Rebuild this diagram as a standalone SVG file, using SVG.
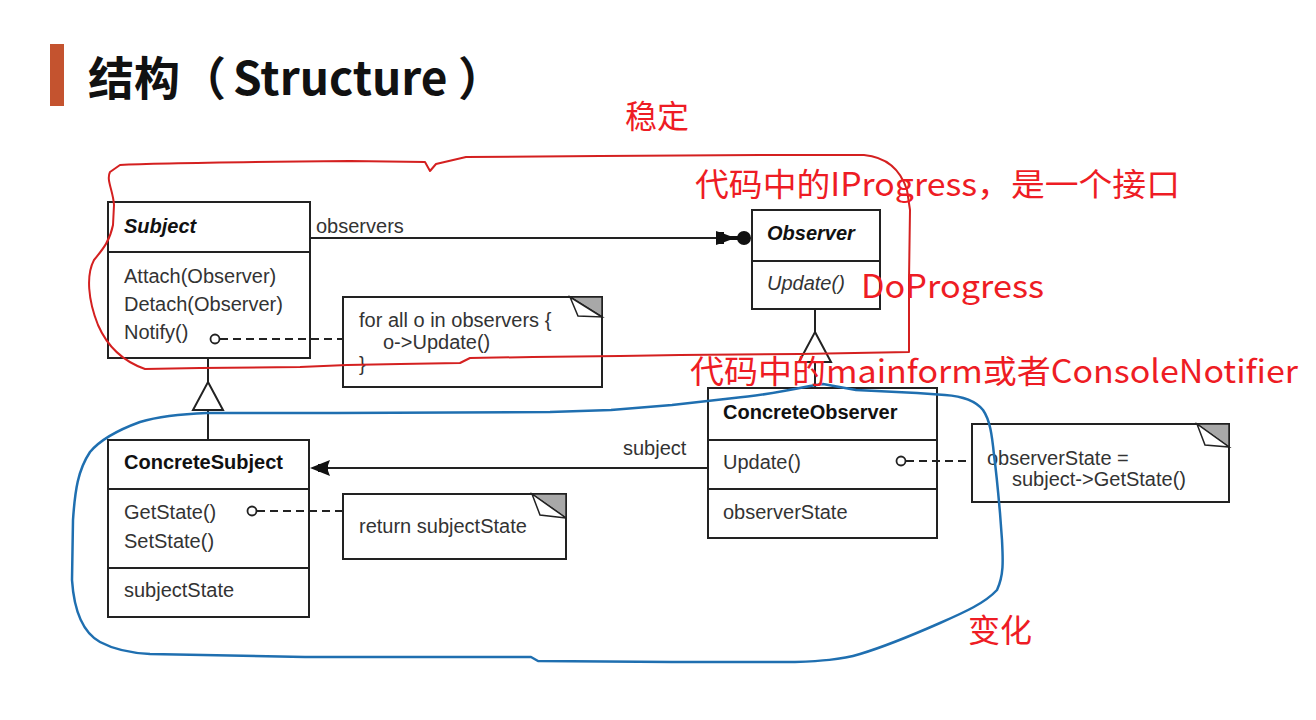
<svg xmlns="http://www.w3.org/2000/svg" width="1316" height="720" viewBox="0 0 1316 720">
<style>
.box{fill:#fff;stroke:#222;stroke-width:2}
.sep{stroke:#222;stroke-width:2}
.t{font-family:"Liberation Sans",Arial,sans-serif;font-size:20px;fill:#333}
.b{font-weight:bold;fill:#111}
.i{font-style:italic}
.ln{stroke:#222;stroke-width:2;fill:none}
.dash{stroke:#222;stroke-width:2;fill:none;stroke-dasharray:8 5}
.dot{fill:#fff;stroke:#222;stroke-width:1.8}
.ear{fill:#a8a8a8;stroke:#222;stroke-width:1.5}
.flap{fill:#fff;stroke:#222;stroke-width:1.5}
.ann{font-family:"Noto Sans CJK SC","Noto Sans",sans-serif;font-size:32px;fill:#ee1c24}
.tri{fill:#fff;stroke:#222;stroke-width:2}
</style>
<rect width="1316" height="720" fill="#fff"/>
<g id="title">
<rect x="50" y="44" width="14" height="62" fill="#c4532f"/>
<text y="95" font-family="'Noto Sans CJK SC',sans-serif" font-size="46" font-weight="bold" fill="#111"><tspan x="88">结构（</tspan><tspan x="233">Structure</tspan><tspan x="458">）</tspan></text>
</g>
<g id="subject">
<rect class="box" x="108" y="202" width="202" height="156"/>
<line class="sep" x1="108" y1="252" x2="310" y2="252"/>
<text class="t b i" x="124" y="233">Subject</text>
<text class="t" x="124" y="283">Attach(Observer)</text>
<text class="t" x="124" y="311">Detach(Observer)</text>
<text class="t" x="124" y="339">Notify()</text>
</g>
<g id="observer">
<rect class="box" x="752" y="210" width="128" height="99"/>
<line class="sep" x1="752" y1="261" x2="880" y2="261"/>
<text class="t b i" x="767" y="240">Observer</text>
<text class="t i" x="767" y="290">Update()</text>
</g>
<g id="concreteSubject">
<rect class="box" x="108" y="440" width="201" height="177"/>
<line class="sep" x1="108" y1="489" x2="309" y2="489"/>
<line class="sep" x1="108" y1="568" x2="309" y2="568"/>
<text class="t b" x="124" y="469">ConcreteSubject</text>
<text class="t" x="124" y="519">GetState()</text>
<text class="t" x="124" y="548">SetState()</text>
<text class="t" x="124" y="597">subjectState</text>
</g>
<g id="concreteObserver">
<rect class="box" x="708" y="388" width="229" height="150"/>
<line class="sep" x1="708" y1="440" x2="937" y2="440"/>
<line class="sep" x1="708" y1="489" x2="937" y2="489"/>
<text class="t b" x="723" y="419">ConcreteObserver</text>
<text class="t" x="723" y="469">Update()</text>
<text class="t" x="723" y="519">observerState</text>
</g>
<g id="note1">
<rect class="box" x="343" y="297" width="259" height="90"/>
<polygon class="ear" points="570,297 602,297 602,317"/>
<polygon class="flap" points="570,297 578,316 602,317"/>
<text class="t" x="359" y="327">for all o in observers {</text>
<text class="t" x="383" y="349">o-&gt;Update()</text>
<text class="t" x="359" y="371">}</text>
</g>
<g id="note2">
<rect class="box" x="343" y="494" width="223" height="65"/>
<polygon class="ear" points="532,494 566,494 566,518"/>
<polygon class="flap" points="532,494 540,515 566,518"/>
<text class="t" x="359" y="533">return subjectState</text>
</g>
<g id="note3">
<rect class="box" x="972" y="424" width="257" height="78"/>
<polygon class="ear" points="1197,424 1229,424 1229,447"/>
<polygon class="flap" points="1197,424 1205,445 1229,447"/>
<text class="t" x="987" y="465">observerState =</text>
<text class="t" x="1012" y="486">subject-&gt;GetState()</text>
</g>
<g id="connectors">
<line class="ln" x1="310" y1="238" x2="718" y2="238"/>
<polygon points="716,231 722,233 730,236 734,238 730,240 722,243 716,245" fill="#111"/>
<rect x="716" y="232" width="8" height="12" fill="#111"/>
<line x1="730" y1="238" x2="744" y2="238" stroke="#111" stroke-width="4"/>
<circle cx="744" cy="238" r="7" fill="#111"/>
<text class="t" x="316" y="233">observers</text>
<line class="dash" x1="220" y1="339" x2="343" y2="339"/>
<circle class="dot" cx="215" cy="339" r="4.5"/>
<line class="ln" x1="208" y1="358" x2="208" y2="382"/>
<polygon class="tri" points="208,382 223,410 193,410"/>
<line class="ln" x1="208" y1="410" x2="208" y2="440"/>
<line class="ln" x1="815" y1="309" x2="815" y2="332"/>
<polygon class="tri" points="815,332 831,362 799,362"/>
<line class="ln" x1="815" y1="362" x2="815" y2="388"/>
<line class="ln" x1="326" y1="468" x2="708" y2="468"/>
<polygon points="310,468 330,460 327,468 330,476" fill="#111"/>
<rect x="318" y="464" width="10" height="8" fill="#111"/>
<text class="t" x="623" y="455">subject</text>
<line class="dash" x1="257" y1="511" x2="343" y2="511"/>
<circle class="dot" cx="252" cy="511" r="4.5"/>
<line class="dash" x1="906" y1="461" x2="972" y2="461"/>
<circle class="dot" cx="901" cy="461" r="4.5"/>
</g>
<g id="annotations">
<path d="M120,165 C160,163 250,162 350,161 L425,162 L430,171 L436,164 L466,157 L600,156 L760,155 L864,155 C885,157 900,168 907,190 L910,210 L909,280 L909,352 L800,354 L680,355 L620,356 L533,357 L470,358 L460,363 L400,364 L347,365 L300,367 L200,368 L145,369 C125,362 108,348 98,325 C88,300 86,275 94,260 C104,248 110,240 113,225 L114,205 C113,190 106,180 110,172 Z" fill="none" stroke="#d42020" stroke-width="2" stroke-linejoin="round"/>
<path d="M207,413 C180,414 160,416 140,422 C118,430 100,440 90,452 C78,470 75,490 73,520 L72,580 C74,610 82,632 100,642 C115,650 130,653 150,654 L305,657 L531,657 L538,661 L672,662 L795,662 C820,661 840,660 860,654 C890,645 915,634 940,623 C965,612 985,603 997,590 C1004,575 1003,560 1002,540 L1000,513 C998,490 996,470 994,455 C992,435 990,420 983,410 C975,400 960,396 945,395 L917,393 L856,390 L823,384 L810,386 C790,390 760,396 734,398 L672,405 L611,410 L550,412 L336,413 Z" fill="none" stroke="#1f6fb0" stroke-width="2.5" stroke-linejoin="round"/>
<text class="ann" x="625" y="128">稳定</text>
<text class="ann" x="695" y="196" textLength="485" lengthAdjust="spacingAndGlyphs">代码中的IProgress，是一个接口</text>
<text class="ann" x="861" y="298" textLength="183" lengthAdjust="spacingAndGlyphs">DoProgress</text>
<text class="ann" x="690" y="383" textLength="608" lengthAdjust="spacingAndGlyphs">代码中的mainform或者ConsoleNotifier</text>
<text class="ann" x="968" y="642">变化</text>
</g>
</svg>
